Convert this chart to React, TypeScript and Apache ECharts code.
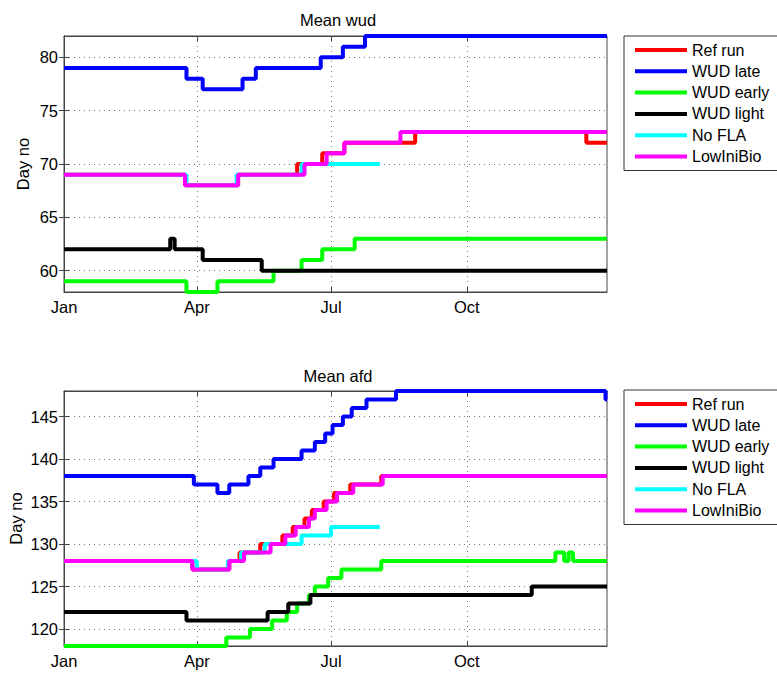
import React, { useEffect, useRef } from 'react';
import * as echarts from 'echarts';

// ---------- data ----------
const seriesNames = ['Ref run', 'WUD late', 'WUD early', 'WUD light', 'No FLA', 'LowIniBio'];
const seriesColors = ['#ff0000', '#0000ff', '#00ff00', '#000000', '#00ffff', '#ff00ff'];

// x axis: day of year counted from 1 Jan
const monthTicks = [0, 90, 181, 273];
const monthLabels = ['Jan', 'Apr', 'Jul', 'Oct'];
const yearEnd = 368;

const wudTicks = [60, 65, 70, 75, 80];
const afdTicks = [120, 125, 130, 135, 140, 145];

// Mean wud: [day, value] change points (value holds until next point)
const wudRefRun = [[0, 69], [82, 68], [118, 69], [158, 70], [175, 71], [190, 72], [238, 73], [354, 72], [368, 72]];
const wudLate = [[0, 79], [83, 78], [94, 77], [121, 78], [130, 79], [174, 80], [189, 81], [204, 82], [368, 82]];
const wudEarly = [[0, 59], [83, 58], [104, 59], [142, 60], [161, 61], [175, 62], [197, 63], [368, 63]];
const wudLight = [[0, 62], [72, 63], [75, 62], [94, 61], [134, 60], [368, 60]];
const wudNoFLA = [[0, 69], [83, 68], [117, 69], [161, 70], [214, 70]];
const wudLowIniBio = [[0, 69], [82, 68], [118, 69], [163, 70], [178, 71], [190, 72], [228, 73], [368, 73]];

// Mean afd
const afdRefRun = [[0, 128], [87, 127], [112, 128], [119, 129], [133, 130], [148, 131], [155, 132], [163, 133], [168, 134], [176, 135], [183, 136], [194, 137], [215, 138], [368, 138]];
const afdLate = [[0, 138], [88, 137], [104, 136], [112, 137], [125, 138], [133, 139], [142, 140], [161, 141], [170, 142], [177, 143], [182, 144], [189, 145], [195, 146], [205, 147], [225, 148], [367, 147], [368, 147]];
const afdEarly = [[0, 118], [110, 119], [126, 120], [141, 121], [151, 122], [158, 123], [166, 124], [170, 125], [179, 126], [188, 127], [215, 128], [333, 129], [339, 128], [342, 129], [345, 128], [368, 128]];
const afdLight = [[0, 122], [83, 121], [138, 122], [152, 123], [167, 124], [317, 125], [368, 125]];
const afdNoFLA = [[0, 128], [90, 127], [111, 128], [120, 129], [136, 130], [161, 131], [181, 132], [214, 132]];
const afdLowIniBio = [[0, 128], [87, 127], [112, 128], [122, 129], [140, 130], [150, 131], [157, 132], [166, 133], [170, 134], [178, 135], [185, 136], [196, 137], [216, 138], [368, 138]];

const wudData = [wudRefRun, wudLate, wudEarly, wudLight, wudNoFLA, wudLowIniBio];
const afdData = [afdRefRun, afdLate, afdEarly, afdLight, afdNoFLA, afdLowIniBio];

const FONT = '"Liberation Sans", Arial, Helvetica, sans-serif';
const FS = 16.5;

export default function App() {
  const ref = useRef<HTMLDivElement>(null);

  useEffect(() => {
    if (!ref.current) return;
    const chart = echarts.init(ref.current, null, { renderer: 'svg' });

    const grids = [
      { left: 64, top: 36, width: 543, height: 256 },
      { left: 64, top: 391, width: 543, height: 255 },
    ];
    const yRanges = [
      { min: 58, max: 82, ticks: wudTicks, nameGap: 33 },
      { min: 118, max: 148, ticks: afdTicks, nameGap: 40 },
    ];

    const axisLine = { show: true, lineStyle: { color: '#444', width: 1 } };
    const splitLine = { show: true, lineStyle: { color: '#777', width: 1, type: [1, 4] } };

    const xAxes: any[] = [];
    const yAxes: any[] = [];
    [0, 1].forEach((g) => {
      xAxes.push({
        type: 'value', gridIndex: g, min: 0, max: yearEnd, position: 'bottom',
        axisLine,
        axisTick: { show: true, inside: true, length: 5, customValues: monthTicks, lineStyle: { color: '#444' } },
        axisLabel: {
          show: true, customValues: monthTicks, margin: 6, fontSize: FS, color: '#000', fontFamily: FONT,
          formatter: (v: number) => monthLabels[monthTicks.indexOf(v)] ?? '',
        },
        splitLine,
      });
      xAxes.push({
        type: 'value', gridIndex: g, min: 0, max: yearEnd, position: 'top',
        axisLine,
        axisTick: { show: true, inside: true, length: 5, customValues: monthTicks, lineStyle: { color: '#444' } },
        axisLabel: { show: false },
        splitLine: { show: false },
      });
      const yr = yRanges[g];
      yAxes.push({
        type: 'value', gridIndex: g, min: yr.min, max: yr.max, position: 'left',
        name: 'Day no', nameLocation: 'middle', nameGap: yr.nameGap, nameRotate: 90, nameMoveOverlap: false,
        nameTextStyle: { fontSize: FS, color: '#000', fontFamily: FONT },
        axisLine,
        axisTick: { show: true, inside: true, length: 5, customValues: yr.ticks, lineStyle: { color: '#444' } },
        axisLabel: { show: true, customValues: yr.ticks, margin: 6, fontSize: FS, color: '#000', fontFamily: FONT },
        splitLine,
      });
      yAxes.push({
        type: 'value', gridIndex: g, min: yr.min, max: yr.max, position: 'right',
        axisLine,
        axisTick: { show: true, inside: true, length: 5, customValues: yr.ticks, lineStyle: { color: '#444' } },
        axisLabel: { show: false },
        splitLine: { show: false },
      });
    });

    const series: any[] = [];
    [wudData, afdData].forEach((set, g) => {
      set.forEach((data, i) => {
        series.push({
          type: 'line', name: seriesNames[i], xAxisIndex: g * 2, yAxisIndex: g * 2,
          data, step: 'end', showSymbol: false, symbol: 'none',
          color: seriesColors[i],
          lineStyle: { color: seriesColors[i], width: 4 },
          emphasis: { disabled: true },
        });
      });
    });

    const legendBase = {
      data: seriesNames, orient: 'vertical', left: 624, icon: 'rect',
      itemWidth: 52, itemHeight: 4, itemGap: 5.3,
      borderColor: '#333', borderWidth: 1, borderRadius: 0, backgroundColor: '#fff',
      padding: [6, 12, 6, 11],
      textStyle: { fontSize: 16, color: '#000', fontFamily: FONT, lineHeight: 16 },
      selectedMode: false,
    };

    const titleStyle = { fontSize: FS, fontWeight: 'normal', color: '#000', fontFamily: FONT };

    chart.setOption({
      animation: false,
      backgroundColor: '#fff',
      color: seriesColors,
      title: [
        { text: 'Mean wud', left: 333, top: 6, textAlign: 'center', textStyle: titleStyle },
        { text: 'Mean afd', left: 333, top: 362, textAlign: 'center', textStyle: titleStyle },
      ],
      legend: [
        { ...legendBase, top: 36 },
        { ...legendBase, top: 390 },
      ],
      grid: grids.map((gr) => ({ ...gr, show: true, borderColor: '#444', borderWidth: 1, backgroundColor: 'transparent', outerBoundsMode: 'none', containLabel: false })),
      xAxis: xAxes,
      yAxis: yAxes,
      series,
    });

    return () => chart.dispose();
  }, []);

  return <div ref={ref} style={{ position: 'fixed', left: 0, top: 0, width: 777, height: 677, background: '#fff' }} />;
}
